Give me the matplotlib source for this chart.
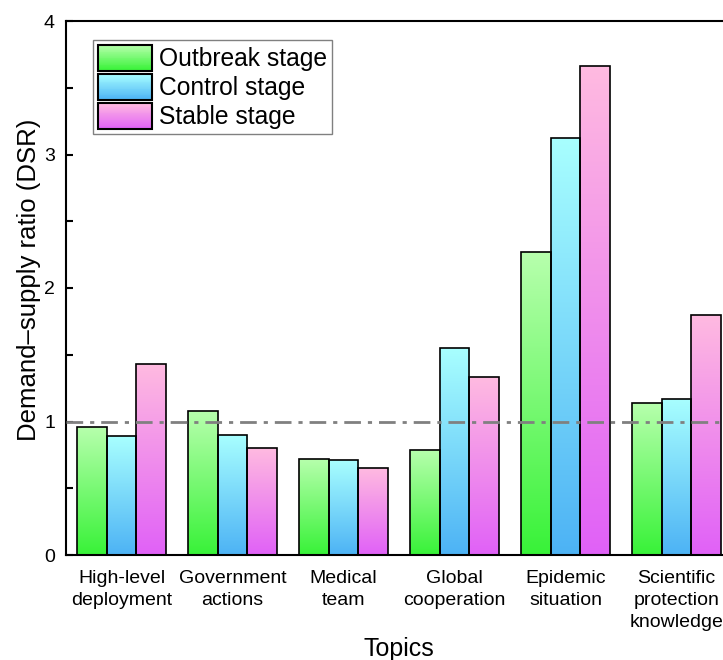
import matplotlib
matplotlib.use("Agg")
import matplotlib.pyplot as plt
import numpy as np
from matplotlib.patches import Rectangle
from matplotlib.legend_handler import HandlerBase
from matplotlib.colors import LinearSegmentedColormap

plt.rcParams['font.family'] = ['Liberation Sans', 'DejaVu Sans']

# data
topics = ['High-level\ndeployment', 'Government\nactions', 'Medical\nteam',
          'Global\ncooperation', 'Epidemic\nsituation', 'Scientific\nprotection\nknowledge']
stages = ['Outbreak stage', 'Control stage', 'Stable stage']
outbreak = [0.96, 1.08, 0.72, 0.79, 2.27, 1.14]
control = [0.89, 0.90, 0.71, 1.55, 3.12, 1.17]
stable = [1.43, 0.80, 0.65, 1.33, 3.66, 1.80]

# gradient colours: (top, bottom)
grads = [((0.72, 1.00, 0.68), (0.22, 0.95, 0.22)),
         ((0.66, 1.00, 1.00), (0.30, 0.70, 0.96)),
         ((1.00, 0.73, 0.88), (0.88, 0.38, 0.97))]
cmaps = [LinearSegmentedColormap.from_list('g%d' % i, [b, t]) for i, (t, b) in enumerate(grads)]

fig = plt.figure(figsize=(7.23, 6.6), dpi=100)
ax = fig.add_axes([66/723, 105/660, 666/723, 534/660])

x = np.arange(1, len(topics) + 1)
w = 0.8 / 3
grad = np.linspace(0, 1, 256).reshape(-1, 1)

for i, vals in enumerate([outbreak, control, stable]):
    xs = x + (i - 1) * w
    bars = ax.bar(xs, vals, width=w, facecolor='none', edgecolor='black', linewidth=1.2, zorder=3)
    for b in bars:
        bx, by = b.get_x(), b.get_y()
        bw, bh = b.get_width(), b.get_height()
        im = ax.imshow(grad, cmap=cmaps[i], aspect='auto', origin='lower',
                       extent=[bx, bx + bw, by, by + bh], zorder=2)
        im.set_clip_path(b)

ax.axhline(1, color='#808080', linestyle=(0, (6, 2.5, 1.5, 2.5)), linewidth=2, zorder=4)

ax.set_xlim(0.5, 6.5)
ax.set_ylim(0, 4)
ax.set_yticks([0, 1, 2, 3, 4])
ax.set_yticks([0.5, 1.5, 2.5, 3.5], minor=True)
ax.set_xticks(x)
ax.set_xticklabels(topics, fontsize=14, linespacing=1.38)
ax.tick_params(axis='x', length=0, pad=11)
ax.tick_params(axis='y', which='both', direction='in', length=5, width=1.5, labelsize=14, pad=8)
ax.set_xlabel('Topics', fontsize=18, labelpad=4)
ax.set_ylabel('Demand\u2013supply ratio (DSR)', fontsize=18.5)
ax.yaxis.set_label_coords(-0.038, 0.515)
for s in ax.spines.values():
    s.set_linewidth(1.5)


class HandlerGradient(HandlerBase):
    def __init__(self, top, bottom):
        super().__init__()
        self.top = np.array(top)
        self.bottom = np.array(bottom)

    def create_artists(self, legend, orig_handle, xdescent, ydescent, width, height, fontsize, trans):
        arts = []
        n = 30
        for k in range(n):
            f = k / (n - 1)
            c = self.bottom + (self.top - self.bottom) * f
            arts.append(Rectangle((-xdescent, -ydescent + height * k / n), width, height / n + 0.3,
                                  facecolor=c, edgecolor='none', transform=trans))
        arts.append(Rectangle((-xdescent, -ydescent), width, height, facecolor='none',
                              edgecolor='black', linewidth=1.5, transform=trans))
        return arts


handles = [Rectangle((0, 0), 1, 1) for _ in stages]
hmap = {h: HandlerGradient(t, b) for h, (t, b) in zip(handles, grads)}
leg = ax.legend(handles, stages, handler_map=hmap, loc='upper left', bbox_to_anchor=(0.04, 0.965),
                borderaxespad=0, fontsize=17.7, handlelength=2.2, handleheight=1.25,
                labelspacing=0.12, handletextpad=0.3, borderpad=0.2, fancybox=False,
                edgecolor='#808080', framealpha=1)
leg.get_frame().set_linewidth(1)

fig.savefig('out.png', dpi=100)
